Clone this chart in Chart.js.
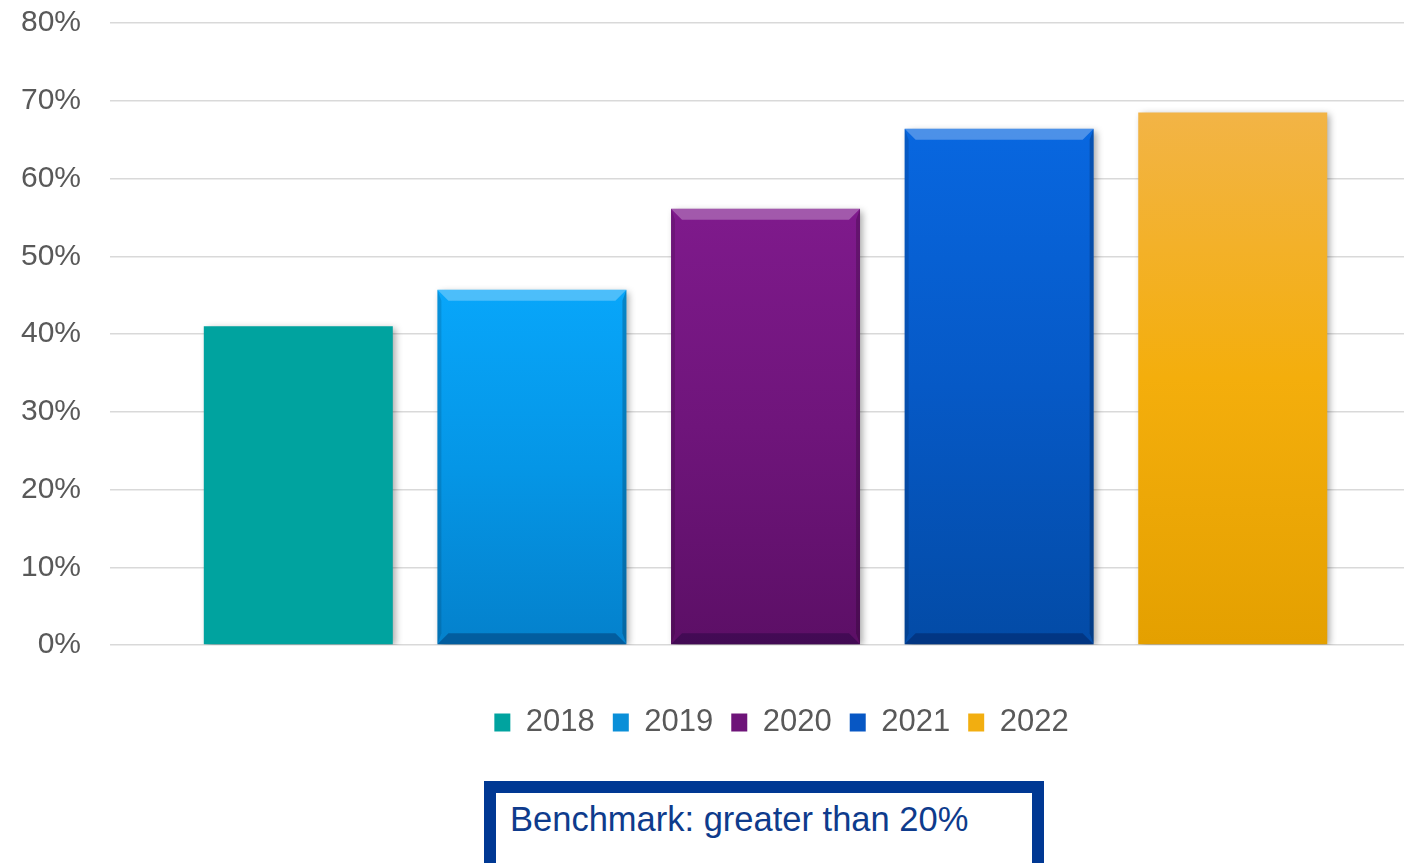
<!DOCTYPE html>
<html>
<head>
<meta charset="utf-8">
<script src="https://cdn.jsdelivr.net/npm/chart.js@4.4.1/dist/chart.umd.min.js"></script>
<style>
  html, body { margin: 0; padding: 0; background: #fff; overflow: hidden; }
  #wrap { position: relative; width: 1404px; height: 863px; overflow: hidden; }
  #chart-box { position: absolute; left: 0; top: 0; width: 1424px; height: 760px; }
  #benchmark {
    position: absolute; left: 484px; top: 781px; width: 560px; height: 100px;
    box-sizing: border-box; border: 12px solid #003893; padding: 6px 0 0 14px;
    font-family: "Liberation Sans", Arial, sans-serif; font-size: 34.5px; line-height: 40px;
    color: #0e3b8c; white-space: nowrap;
  }
</style>
</head>
<body>
<div id="wrap">
  <div id="chart-box"><canvas id="rateChart"></canvas></div>
  <div id="benchmark">Benchmark: greater than 20%</div>
</div>
<script>
// valores por ano (%)
const years = ['2018', '2019', '2020', '2021', '2022'];
const rates = [41, 45.7, 56.1, 66.4, 68.5];
const yMax = 80;
const yStep = 10;

// cores das barras: topo, meio e base do degradê
const topColors = ['#00a39f', '#08a6fa', '#7f1a8c', '#0867e0', '#f2b446'];
const midColors = ['#00a39f', '#0596e6', '#6f157b', '#0659c6', '#f4ae0c'];
const bottomColors = ['#00a39f', '#0481cc', '#5c0f66', '#034ba6', '#e4a000'];
const legendColors = ['#00a39f', '#0a8fd8', '#6e1479', '#0757c4', '#f2ae10'];
const bevelled = [false, true, true, true, false];
const legendShift = 75;

Chart.defaults.font.family = '"Liberation Sans", Arial, sans-serif';
Chart.defaults.color = '#595959';

// degradê vertical calculado a partir da própria barra
function barFill(i) {
    return (ctx) => {
        const chart = ctx.chart;
        if (!chart.chartArea || ctx.raw == null) return midColors[i];
        const y = chart.scales.y;
        const top = y.getPixelForValue(ctx.raw);
        const bottom = y.getPixelForValue(0);
        const g = chart.ctx.createLinearGradient(0, top, 0, bottom);
        g.addColorStop(0, topColors[i]);
        g.addColorStop(0.5, midColors[i]);
        g.addColorStop(1, bottomColors[i]);
        return g;
    };
}

function poly(c, pts, fill) {
    c.beginPath();
    c.moveTo(pts[0][0], pts[0][1]);
    for (let k = 1; k < pts.length; k++) c.lineTo(pts[k][0], pts[k][1]);
    c.closePath();
    c.fillStyle = fill;
    c.fill();
}

// sombra e chanfro das barras, e deslocamento da legenda
const barEffects = {
    id: 'barEffects',
    afterLayout(chart) {
        chart.legend.left += legendShift;
        chart.legend.right += legendShift;
    },
    beforeDatasetsDraw(chart) {
        const c = chart.ctx;
        c.save();
        c.shadowColor = 'rgba(0, 0, 0, 0.35)';
        c.shadowBlur = 7;
        c.shadowOffsetX = 3;
        c.shadowOffsetY = 2;
    },
    afterDatasetsDraw(chart) {
        const c = chart.ctx;
        c.restore();
        chart.data.datasets.forEach((ds, i) => {
            if (!bevelled[i]) return;
            chart.getDatasetMeta(i).data.forEach(bar => {
                const { x, y, base, width } = bar.getProps(['x', 'y', 'base', 'width'], true);
                const l = x - width / 2, r = x + width / 2, b = 11, s = 4;
                poly(c, [[l, y], [r, y], [r - b, y + b], [l + b, y + b]], 'rgba(255, 255, 255, 0.28)');
                poly(c, [[l, base], [r, base], [r - b, base - b], [l + b, base - b]], 'rgba(0, 0, 40, 0.28)');
                poly(c, [[l, y], [l + s, y + b], [l + s, base - b], [l, base]], 'rgba(0, 0, 0, 0.12)');
                poly(c, [[r, y], [r - s, y + b], [r - s, base - b], [r, base]], 'rgba(0, 0, 0, 0.2)');
            });
        });
    }
};

const datasets = years.map((year, i) => ({
    label: year,
    data: [rates[i]],
    backgroundColor: barFill(i),
    borderWidth: 0
}));

new Chart(document.getElementById('rateChart'), {
    type: 'bar',
    data: { labels: ['Ano'], datasets: datasets },
    plugins: [barEffects],
    options: {
        responsive: true,
        maintainAspectRatio: false,
        animation: false,
        datasets: { bar: { categoryPercentage: 0.891, barPercentage: 0.809 } },
        layout: { padding: { top: 23, left: -8, right: 3, bottom: 12 } },
        scales: {
            x: {
                grid: { display: false },
                border: { display: false },
                ticks: { display: false },
                afterFit: (scale) => { scale.height = 44; }
            },
            y: {
                min: 0,
                max: yMax,
                ticks: {
                    stepSize: yStep,
                    padding: 29,
                    font: { size: 30 },
                    color: '#595959',
                    callback: (v) => v + '%'
                },
                grid: { color: '#d9d9d9', lineWidth: 1.5, drawTicks: false },
                border: { display: false },
                // o padding dos rótulos não deve empurrar a área do gráfico para baixo
                afterFit: (scale) => { scale.paddingTop = 0; }
            }
        },
        plugins: {
            tooltip: { enabled: false },
            legend: {
                position: 'bottom',
                labels: {
                    boxWidth: 16,
                    boxHeight: 18,
                    padding: 18,
                    color: '#595959',
                    font: { size: 31 },
                    generateLabels: (chart) => {
                        const items = Chart.defaults.plugins.legend.labels.generateLabels(chart);
                        items.forEach((item, i) => {
                            item.fillStyle = legendColors[i];
                            item.lineWidth = 0;
                        });
                        return items;
                    }
                }
            }
        }
    }
});
</script>
</body>
</html>
